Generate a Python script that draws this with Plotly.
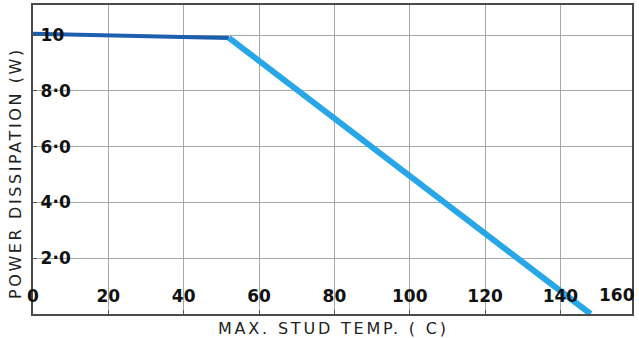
import plotly.graph_objects as go

# derating curve
temp = [0, 52, 148]
power = [10.05, 9.9, 0]

x_ticks = [0, 20, 40, 60, 80, 100, 120, 140]
y_ticks = [2, 4, 6, 8, 10]
y_labels = ["2·0", "4·0", "6·0", "8·0", "10"]

tick_font = dict(family="DejaVu Sans", size=17, color="#111111", weight="bold")
title_font = dict(family="DejaVu Sans", size=16, color="#222222")

fig = go.Figure()

# flat part (darker) and the slope (lighter blue)
fig.add_trace(go.Scatter(x=temp[:2], y=power[:2], mode="lines",
                         line=dict(color="#1c5faf", width=4)))
fig.add_trace(go.Scatter(x=temp[1:], y=power[1:], mode="lines",
                         line=dict(color="#27a6e8", width=6)))

axis_style = dict(ticklabelposition="inside", ticks="inside", ticklen=4, tickcolor="#555",
                  tickfont=tick_font, ticklabeloverflow="allow", automargin=False,
                  showgrid=True, gridcolor="#a3aaa6", gridwidth=1,
                  showline=True, linecolor="#4a4a4a", linewidth=2, mirror=True,
                  zeroline=False)

fig.update_xaxes(range=[0, 159], tickvals=x_ticks, ticktext=[str(v) for v in x_ticks],
                 ticklabelstandoff=5, **axis_style)
fig.update_yaxes(range=[0, 11.08], tickvals=y_ticks, ticktext=y_labels,
                 ticklabelstandoff=4, **axis_style)

fig.add_annotation(text="160", xref="paper", yref="paper", x=(617 - 33) / 599, y=0,
                   xanchor="center", yshift=19, yanchor="middle",
                   showarrow=False, font=tick_font)
fig.add_annotation(text='<span style="letter-spacing:2.8px">MAX. STUD TEMP. ( C)</span>',
                   xref="paper", yref="paper", x=(333 - 33) / 599, y=0, yshift=-14,
                   xanchor="center", yanchor="middle", showarrow=False, font=title_font)
fig.add_annotation(text='<span style="letter-spacing:2.6px">POWER DISSIPATION (W)</span>',
                   xref="paper", yref="paper", x=0, xshift=-18, xanchor="center",
                   y=(314 - 173) / 309, yanchor="middle",
                   textangle=-90, showarrow=False, font=title_font)

fig.update_layout(width=639, height=338, showlegend=False,
                  margin=dict(l=33, r=7, t=5, b=24, autoexpand=False),
                  paper_bgcolor="white", plot_bgcolor="white")

# browser default body margin would shift the chart by 8px
fig.write_html("out.html", config={"displayModeBar": False},
               post_script="document.body.style.margin='0';")
